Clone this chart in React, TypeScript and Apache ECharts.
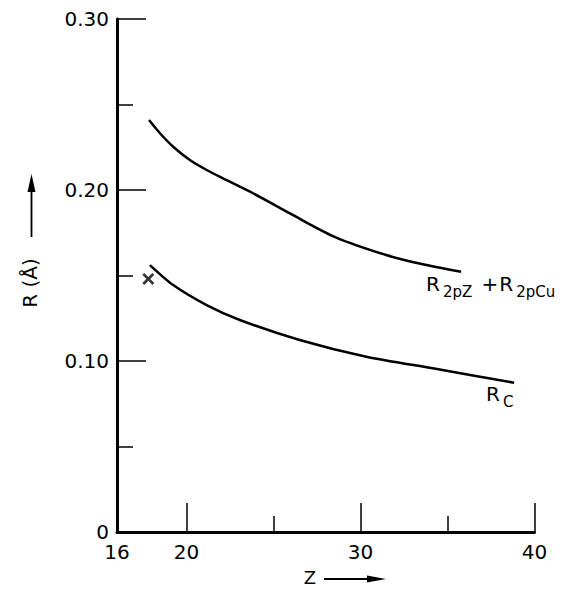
import React, { useEffect, useRef } from "react";
import * as echarts from "echarts";

const zUpper = [17.84, 18.47, 19.23, 20.19, 21.15, 22.3, 23.82, 26.1, 28.6, 31.47, 33.38, 35.78];
const rUpper = [0.2409, 0.2332, 0.2253, 0.2175, 0.2117, 0.2058, 0.1981, 0.1854, 0.1722, 0.162, 0.157, 0.1522];
const zLower = [17.89, 19.23, 21.15, 23.06, 26.5, 30.33, 34.15, 38.83];
const rLower = [0.1561, 0.1444, 0.1327, 0.124, 0.1123, 0.1025, 0.0957, 0.0873];
const zCross = [17.8];
const rCross = [0.148];
const xLabelValues = [16, 20, 30, 40];
const xMajorTicks = [20, 30, 40];
const xMinorTicks = [25, 35];

const FONT = "DejaVu Sans";

export default function App() {
  const ref = useRef<HTMLDivElement>(null);
  useEffect(() => {
    if (!ref.current) return;
    const chart = echarts.init(ref.current, undefined, { renderer: "svg" });
    const black = "#000";
    const subStyle = { fontSize: 15, lineHeight: 15, padding: [16, 1, 0, 3], fontFamily: FONT, fill: black, color: black };
    const mainStyle = { fontSize: 20, lineHeight: 20, fontFamily: FONT, fill: black, color: black };
    chart.setOption({
      animation: false,
      backgroundColor: "#fff",
      grid: { left: 117, right: 47.5, top: 19, bottom: 58, containLabel: false, outerBoundsMode: "none" },
      xAxis: [
        {
          type: "value",
          min: 16,
          max: 40,
          axisLine: { show: true, lineStyle: { color: black, width: 3 } },
          axisTick: { show: true, inside: true, length: 29, customValues: xMajorTicks, lineStyle: { color: black, width: 1.5 } },
          axisLabel: { show: true, customValues: xLabelValues, margin: 10, color: black, fontSize: 20, fontFamily: FONT },
          splitLine: { show: false },
        },
        {
          type: "value",
          min: 16,
          max: 40,
          position: "bottom",
          axisLine: { show: false },
          axisTick: { show: true, inside: true, length: 16, customValues: xMinorTicks, lineStyle: { color: black, width: 1.5 } },
          axisLabel: { show: false },
          splitLine: { show: false },
        },
      ],
      yAxis: {
        type: "value",
        min: 0,
        max: 0.3,
        interval: 0.1,
        axisLine: { show: true, lineStyle: { color: black, width: 3 } },
        axisTick: { show: true, inside: true, length: 29, lineStyle: { color: black, width: 1.5 } },
        minorTick: { show: true, splitNumber: 2, length: 16, lineStyle: { color: black, width: 1.5 } },
        axisLabel: {
          color: black,
          fontSize: 20,
          fontFamily: FONT,
          margin: 8,
          formatter: (v: number) => (v === 0 ? "0" : v.toFixed(2)),
        },
        splitLine: { show: false },
        minorSplitLine: { show: false },
      },
      series: [
        {
          type: "line",
          data: zUpper.map((z, i) => [z, rUpper[i]]),
          smooth: 0.3,
          showSymbol: false,
          lineStyle: { color: black, width: 2.5 },
        },
        {
          type: "line",
          data: zLower.map((z, i) => [z, rLower[i]]),
          smooth: 0.25,
          showSymbol: false,
          lineStyle: { color: black, width: 2.5 },
        },
        {
          type: "scatter",
          data: zCross.map((z, i) => [z, rCross[i]]),
          symbol: "path://M0,1.6 L1.6,0 L5,3.4 L8.4,0 L10,1.6 L6.6,5 L10,8.4 L8.4,10 L5,6.6 L1.6,10 L0,8.4 L3.4,5 Z",
          symbolSize: 12,
          itemStyle: { color: black },
        },
      ],
      graphic: [
        {
          type: "text",
          x: 426,
          y: 274,
          style: {
            text: "{r|R}{s|2pZ}{p| +}{r|R}{s|2pCu}",
            rich: { r: mainStyle, s: subStyle, p: { ...mainStyle, padding: [0, 1, 0, 2] } },
            align: "left",
            verticalAlign: "top",
          },
        },
        {
          type: "text",
          x: 486,
          y: 384,
          style: {
            text: "{r|R}{s|C}",
            rich: { r: mainStyle, s: subStyle },
            align: "left",
            verticalAlign: "top",
          },
        },
        {
          type: "text",
          x: 30,
          y: 283,
          rotation: Math.PI / 2,
          style: {
            text: "R (Å)",
            font: `20px "${FONT}"`,
            fill: black,
            align: "center",
            verticalAlign: "middle",
          },
        },
        { type: "line", shape: { x1: 31.5, y1: 237, x2: 31.5, y2: 188 }, style: { stroke: black, lineWidth: 1.8 } },
        { type: "polygon", shape: { points: [[27.5, 192], [31.5, 174], [35.5, 192]] }, style: { fill: black } },
        {
          type: "text",
          x: 310,
          y: 577,
          style: {
            text: "Z",
            font: `18px "${FONT}"`,
            fill: black,
            align: "center",
            verticalAlign: "middle",
          },
        },
        { type: "line", shape: { x1: 324, y1: 579, x2: 372, y2: 579 }, style: { stroke: black, lineWidth: 1.8 } },
        { type: "polygon", shape: { points: [[367, 575.5], [386, 579], [367, 582.5]] }, style: { fill: black } },
      ],
    });
    return () => chart.dispose();
  }, []);
  return (
    <div
      ref={ref}
      style={{ position: "fixed", left: 0, top: 0, width: 582, height: 590, background: "#fff" }}
    />
  );
}
